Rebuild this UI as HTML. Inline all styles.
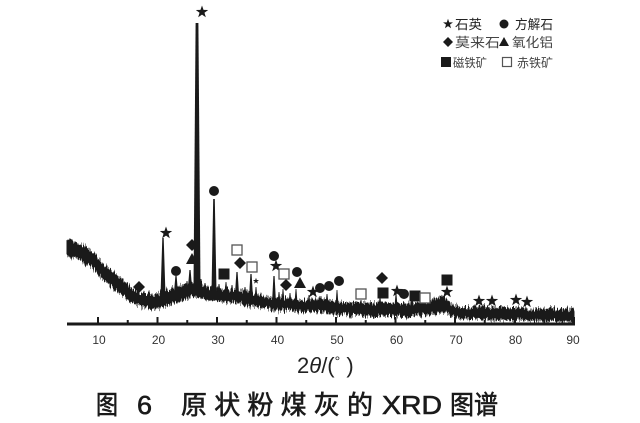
<!DOCTYPE html>
<html><head><meta charset="utf-8"><style>
html,body{margin:0;padding:0;background:#fff;}
svg{display:block;}
</style></head><body>
<svg width="640" height="423" viewBox="0 0 640 423" xmlns="http://www.w3.org/2000/svg">
<defs>
<path id="st" d="M0,-6.5 L1.53,-2.1 L6.18,-2.01 L2.47,0.8 L3.82,5.26 L0,2.6 L-3.82,5.26 L-2.47,0.8 L-6.18,-2.01 L-1.53,-2.1 Z" fill="#1a1a1a"/>
<path id="di" d="M0,-6 L6,0 L0,6 L-6,0 Z" fill="#1a1a1a"/>
<path id="tr" d="M0,-6 L6,5 L-6,5 Z" fill="#1a1a1a"/>
<circle id="ci" r="5" fill="#1a1a1a"/>
<rect id="fs" x="-5.5" y="-5.5" width="11" height="11" fill="#1a1a1a"/>
<rect id="hs" x="-5" y="-5" width="10" height="10" fill="#fff" stroke="#555" stroke-width="1.3"/>
<filter id="nz" filterUnits="userSpaceOnUse" x="55" y="215" width="530" height="120" color-interpolation-filters="sRGB">
<feTurbulence type="fractalNoise" baseFrequency="0.9 0.04" numOctaves="2" seed="3" result="t"/>
<feColorMatrix in="t" type="matrix" values="0 0 0 0 0.5  0 1.6 0 0 -0.3  0 0 1 0 0  0 0 0 0 1" result="m"/>
<feDisplacementMap in="SourceGraphic" in2="m" scale="8" xChannelSelector="R" yChannelSelector="G"/>
</filter>
</defs>

<!-- noisy band -->
<polygon filter="url(#nz)" fill="#1a1a1a" stroke="#1a1a1a" stroke-width="1" stroke-linejoin="round" points="67,239 75,242 85,247 92,252 100,260 105,265 110,270 115,274 120,278 125,282 130,287 135,290 140,293 145,294 150,295 155,295 160,294 165,292 170,290 175,288 180,287 185,285 190,283 195,282 200,283 205,286 210,288 220,289 230,290 240,291 250,293 260,296 270,298 280,298 290,299 300,301 310,300 320,299 330,301 340,303 360,303 380,303 400,304 420,303 430,301 440,297 446,299 452,305 460,307 480,307 500,308 530,309 560,309 574,310 574,322 560,321 530,320 500,320 480,319 460,318 452,316 446,312 440,312 430,314 420,315 400,316 380,316 360,316 340,314 330,313 320,311 310,312 300,312 290,310 280,310 270,309 260,307 250,305 240,303 230,302 220,301 210,300 205,299 200,297 195,296 190,297 185,299 180,301 175,302 170,304 165,305 160,307 155,308 150,308 145,307 140,306 135,304 130,301 125,297 120,293 115,289 110,285 105,281 100,276 92,267 85,263 75,258 67,255"/>
<polygon fill="#1a1a1a" points="67,241.5 75,244.5 85,249.5 92,254.5 100,262.5 105,267.5 110,272.5 115,276.5 120,280.5 125,284.5 130,289.5 135,292.5 140,295.5 145,296.5 150,297.5 155,297.5 160,296.5 165,294.5 170,292.5 175,290.5 180,289.5 185,287.5 190,285.5 195,284.5 200,285.5 205,288.5 210,290.5 220,291.5 230,292.5 240,293.5 250,295.5 260,298.5 270,300.5 280,300.5 290,301.5 300,303.5 310,302.5 320,301.5 330,303.5 340,305.5 360,305.5 380,305.5 400,306.5 420,305.5 430,303.5 440,299.5 446,301.5 452,307.5 460,309.5 480,309.5 500,310.5 530,311.5 560,311.5 574,312.5 574,319.5 560,318.5 530,317.5 500,317.5 480,316.5 460,315.5 452,313.5 446,309.5 440,309.5 430,311.5 420,312.5 400,313.5 380,313.5 360,313.5 340,311.5 330,310.5 320,308.5 310,309.5 300,309.5 290,307.5 280,307.5 270,306.5 260,304.5 250,302.5 240,300.5 230,299.5 220,298.5 210,297.5 205,296.5 200,294.5 195,293.5 190,294.5 185,296.5 180,298.5 175,299.5 170,301.5 165,302.5 160,304.5 155,305.5 150,305.5 145,304.5 140,303.5 135,301.5 130,298.5 125,294.5 120,290.5 115,286.5 110,282.5 105,278.5 100,273.5 92,264.5 85,260.5 75,255.5 67,252.5"/>

<!-- peaks -->
<g fill="#1a1a1a">
<path d="M160.5,296 L162.3,238 L163.7,238 L165.5,296 Z"/>
<path d="M174,292 L175.4,276 L176.6,276 L178,292 Z"/>
<path d="M181.5,291 L182.6,284 L183.4,284 L184.5,291 Z"/>
<path d="M185.5,289 L186.6,281 L187.4,281 L188.5,289 Z"/>
<path d="M188,287 L189.4,270 L190.6,270 L192,287 Z"/>
<path d="M193.5,287 L195.6,23 L198.4,23 L200.5,287 Z"/>
<path d="M199.5,286 L200.6,279 L201.4,279 L202.5,286 Z"/>
<path d="M203.5,289 L204.6,283 L205.4,283 L206.5,289 Z"/>
<path d="M211.5,292 L213.2,199 L214.8,199 L216.5,292 Z"/>
<path d="M217.5,292 L218.6,284 L219.4,284 L220.5,292 Z"/>
<path d="M224.5,293 L225.6,282 L226.4,282 L227.5,293 Z"/>
<path d="M230.5,294 L231.6,285 L232.4,285 L233.5,294 Z"/>
<path d="M235,294 L236.4,272 L237.6,272 L239,294 Z"/>
<path d="M243.5,295 L244.6,287 L245.4,287 L246.5,295 Z"/>
<path d="M249,297 L250.4,274 L251.6,274 L253,297 Z"/>
<path d="M254.5,299 L255.6,287 L256.4,287 L257.5,299 Z"/>
<path d="M272,303 L273.4,276 L274.6,276 L276,303 Z"/>
<path d="M277.5,303 L278.6,292 L279.4,292 L280.5,303 Z"/>
<path d="M281.5,303 L282.6,289 L283.4,289 L284.5,303 Z"/>
<path d="M288.5,303 L289.6,293 L290.4,293 L291.5,303 Z"/>
<path d="M294.5,303 L295.6,289 L296.4,289 L297.5,303 Z"/>
<path d="M307.5,305 L308.6,295 L309.4,295 L310.5,305 Z"/>
<path d="M318.5,304 L319.6,296 L320.4,296 L321.5,304 Z"/>
<path d="M325.5,304 L326.6,294 L327.4,294 L328.5,304 Z"/>
<path d="M335.5,306 L336.6,290 L337.4,290 L338.5,306 Z"/>
<path d="M359.5,307 L360.6,300 L361.4,300 L362.5,307 Z"/>
<path d="M378.5,307 L379.6,297 L380.4,297 L381.5,307 Z"/>
<path d="M394.5,307 L395.6,293 L396.4,293 L397.5,307 Z"/>
<path d="M410.5,307 L411.6,297 L412.4,297 L413.5,307 Z"/>
<path d="M419.5,306 L420.6,299 L421.4,299 L422.5,306 Z"/>
<path d="M440,303 L442.6,296 L443.4,296 L446,303 Z"/>
</g>

<!-- markers -->
<use href="#st" x="202" y="12"/>
<use href="#st" x="166" y="233"/>
<use href="#st" x="276" y="266"/>
<use href="#st" transform="translate(256,281) scale(0.5)"/>
<use href="#st" x="313" y="292"/>
<use href="#st" x="397" y="291"/>
<use href="#st" x="447" y="292"/>
<use href="#st" x="479" y="301"/>
<use href="#st" x="492" y="301"/>
<use href="#st" x="516" y="300"/>
<use href="#st" x="527" y="302"/>

<use href="#ci" x="214" y="191"/>
<use href="#ci" x="176" y="271"/>
<use href="#ci" x="274" y="256"/>
<use href="#ci" x="297" y="272"/>
<use href="#ci" x="320" y="288"/>
<use href="#ci" x="329" y="286"/>
<use href="#ci" x="339" y="281"/>
<use href="#ci" x="404" y="294"/>

<use href="#di" x="139" y="287"/>
<use href="#di" x="192" y="245"/>
<use href="#di" x="240" y="263"/>
<use href="#di" x="286" y="285"/>
<use href="#di" x="382" y="278"/>

<use href="#tr" x="192" y="259"/>
<use href="#tr" x="300" y="283"/>

<use href="#fs" x="224" y="274"/>
<use href="#fs" x="383" y="293"/>
<use href="#fs" x="415" y="296"/>
<use href="#fs" x="447" y="280"/>

<use href="#hs" x="237" y="250"/>
<use href="#hs" x="252" y="267"/>
<use href="#hs" x="284" y="274"/>
<use href="#hs" x="361" y="294"/>
<use href="#hs" x="425" y="298"/>

<!-- axis -->
<line x1="67" y1="324" x2="575" y2="324" stroke="#1a1a1a" stroke-width="3"/>
<g stroke="#1a1a1a" stroke-width="2">
<line x1="98" y1="317" x2="98" y2="324"/>
<line x1="157.5" y1="317" x2="157.5" y2="324"/>
<line x1="217" y1="317" x2="217" y2="324"/>
<line x1="276.5" y1="317" x2="276.5" y2="324"/>
<line x1="336" y1="317" x2="336" y2="324"/>
<line x1="395.5" y1="317" x2="395.5" y2="324"/>
<line x1="455" y1="317" x2="455" y2="324"/>
<line x1="514.5" y1="317" x2="514.5" y2="324"/>
<line x1="574" y1="317" x2="574" y2="324"/>
<line x1="127.75" y1="320" x2="127.75" y2="324"/>
<line x1="187.25" y1="320" x2="187.25" y2="324"/>
<line x1="246.75" y1="320" x2="246.75" y2="324"/>
<line x1="306.25" y1="320" x2="306.25" y2="324"/>
<line x1="365.75" y1="320" x2="365.75" y2="324"/>
<line x1="425.25" y1="320" x2="425.25" y2="324"/>
<line x1="484.75" y1="320" x2="484.75" y2="324"/>
<line x1="544.25" y1="320" x2="544.25" y2="324"/>
</g>
<g font-family="Liberation Sans, sans-serif" font-size="12" fill="#333" text-anchor="middle">
<text x="99" y="344">10</text>
<text x="158.5" y="344">20</text>
<text x="218" y="344">30</text>
<text x="277.5" y="344">40</text>
<text x="337" y="344">50</text>
<text x="396.5" y="344">60</text>
<text x="456" y="344">70</text>
<text x="515.5" y="344">80</text>
<text x="573" y="344">90</text>
</g>
<text x="297" y="373" font-family="Liberation Sans, sans-serif" font-size="22" fill="#222">2<tspan font-style="italic">θ</tspan>/(<tspan font-size="14" dy="-7">°</tspan><tspan dy="7"> )</tspan></text>

<!-- legend -->
<g font-family="Liberation Sans, 'Noto Sans CJK SC', sans-serif" font-size="13">
<use href="#st" transform="translate(448,24) scale(0.8)"/>
<text x="455" y="29" fill="#222" textLength="27" lengthAdjust="spacingAndGlyphs">石英</text>
<circle cx="504" cy="24" r="4.5" fill="#1a1a1a"/>
<text x="515" y="29" fill="#222" textLength="38" lengthAdjust="spacingAndGlyphs">方解石</text>
<path d="M448,37 L453,42 L448,47 L443,42 Z" fill="#1a1a1a"/>
<text x="455" y="47" fill="#444" textLength="45" lengthAdjust="spacingAndGlyphs">莫来石</text>
<path d="M504,37 L509,46 L499,46 Z" fill="#1a1a1a"/>
<text x="512" y="47" fill="#444" textLength="41" lengthAdjust="spacingAndGlyphs">氧化铝</text>
<rect x="441" y="57" width="10" height="10" fill="#1a1a1a"/>
<text x="453" y="67" fill="#444" font-size="12" textLength="34" lengthAdjust="spacingAndGlyphs">磁铁矿</text>
<rect x="502.5" y="57.5" width="9" height="9" fill="#fff" stroke="#555" stroke-width="1.2"/>
<text x="517" y="67" fill="#444" font-size="12" textLength="36" lengthAdjust="spacingAndGlyphs">赤铁矿</text>
</g>

<!-- caption -->
<g font-family="Liberation Sans, 'Noto Sans CJK SC', sans-serif" font-size="26" fill="#1a1a1a" stroke="#1a1a1a" stroke-width="0.6">
<text x="96" y="414" font-family="'Noto Sans CJK SC', sans-serif" textLength="22" lengthAdjust="spacingAndGlyphs">图</text>
<text x="137" y="414" textLength="15" lengthAdjust="spacingAndGlyphs">6</text>
<text x="181" y="414" font-family="'Noto Sans CJK SC', sans-serif" textLength="192" lengthAdjust="spacing">原状粉煤灰的</text>
<text x="382" y="414" textLength="60" lengthAdjust="spacingAndGlyphs">XRD</text>
<text x="450" y="414" font-family="'Noto Sans CJK SC', sans-serif" textLength="48" lengthAdjust="spacingAndGlyphs">图谱</text>
</g>
</svg>
</body></html>
